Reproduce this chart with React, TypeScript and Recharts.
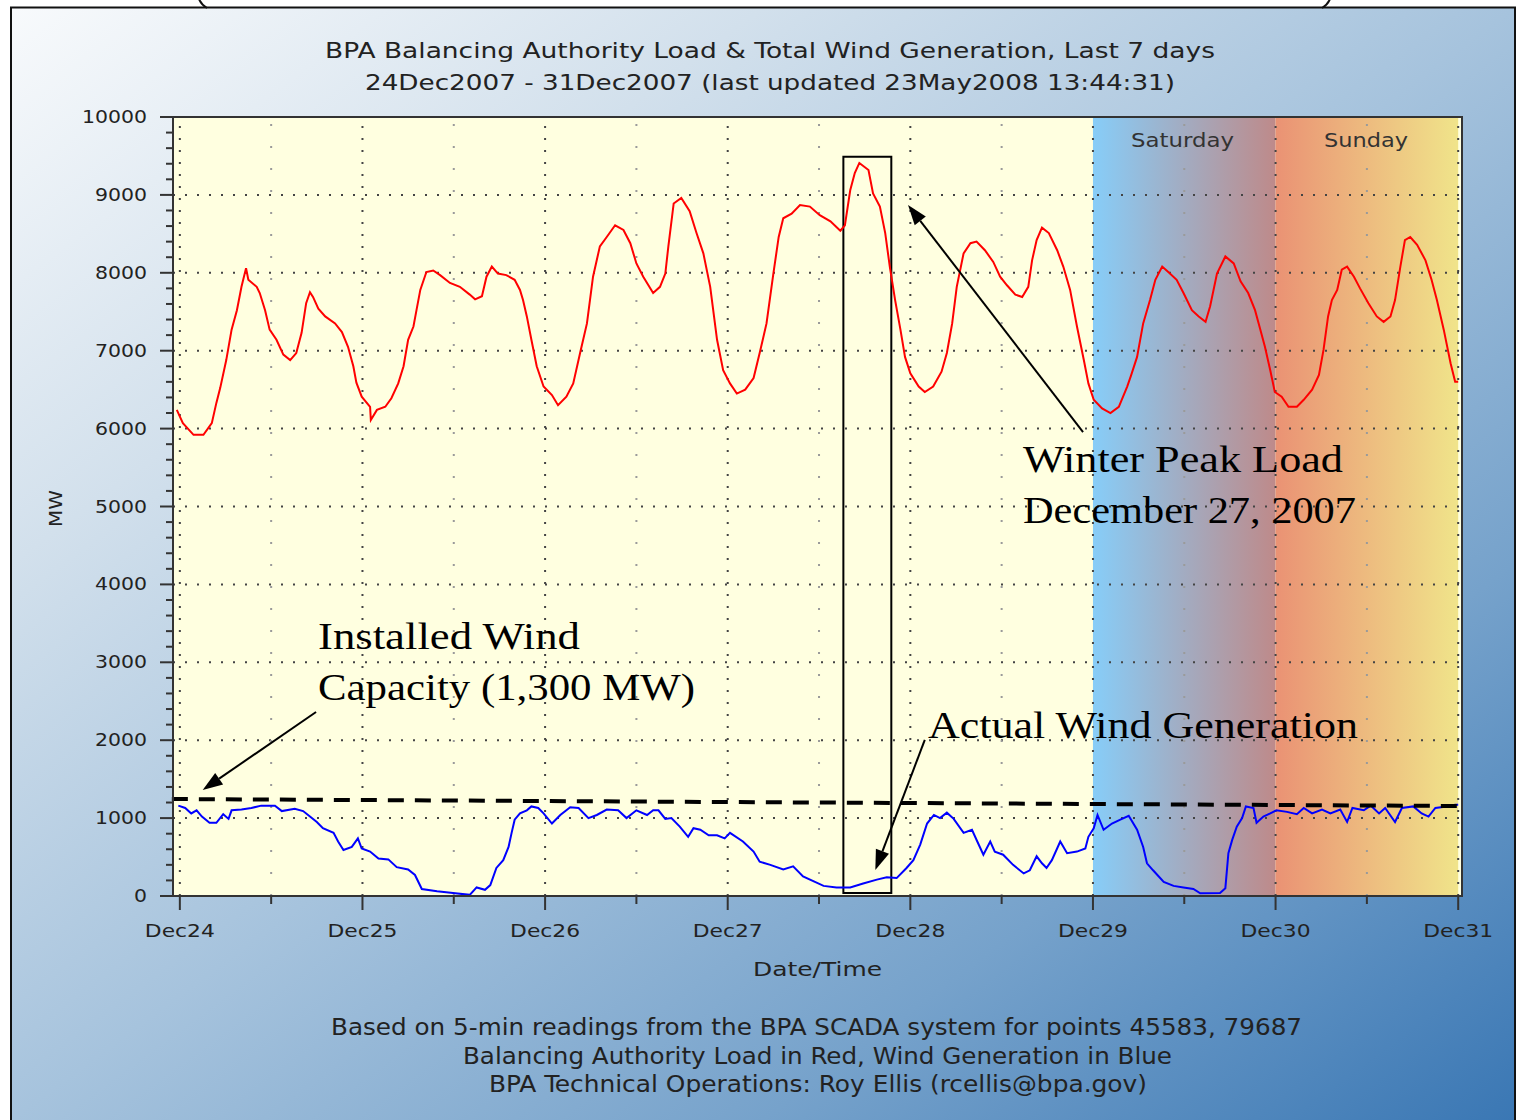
import React from 'react';
import { LineChart, Line, XAxis, YAxis, ReferenceArea, ReferenceLine } from 'recharts';

// hours since Dec24 00:00 and MW
const loadHours = [-0.4, 0.4, 1.8, 3.1, 4.2, 4.8, 5.3, 6.1, 6.8, 7.5, 8.1, 8.7, 9.0, 10.1, 10.5, 11.2, 11.8, 12.7, 13.6, 14.5, 15.3, 16.0, 16.6, 17.1, 17.5, 18.2, 19.1, 20.4, 21.3, 22.1, 22.8, 23.2, 23.9, 25.0, 25.1, 25.9, 27.0, 27.8, 28.7, 29.4, 30.0, 30.7, 31.1, 31.6, 32.4, 33.3, 34.2, 35.5, 36.8, 38.1, 38.8, 39.7, 40.3, 41.0, 41.8, 42.9, 44.0, 44.7, 45.1, 45.6, 46.2, 46.9, 47.8, 48.9, 49.7, 50.8, 51.7, 52.6, 53.5, 54.3, 55.2, 56.1, 57.2, 58.3, 59.2, 60.0, 60.9, 62.2, 63.1, 63.8, 64.2, 64.9, 65.9, 67.0, 67.9, 68.8, 69.7, 70.6, 71.4, 72.3, 73.2, 74.3, 75.4, 76.2, 77.1, 78.0, 78.7, 79.3, 80.4, 81.5, 82.8, 84.1, 85.5, 86.8, 87.4, 88.1, 88.7, 89.3, 90.5, 91.1, 92.0, 92.7, 93.3, 94.0, 94.7, 95.3, 96.0, 97.1, 97.9, 99.0, 100.1, 100.8, 101.5, 102.1, 103.0, 103.9, 104.7, 105.8, 106.9, 107.8, 108.7, 109.8, 110.7, 111.5, 112.0, 112.6, 113.3, 114.2, 115.3, 116.1, 117.0, 117.9, 118.8, 119.4, 120.1, 121.2, 122.3, 123.4, 124.5, 125.0, 125.8, 126.6, 127.5, 128.2, 129.1, 129.9, 131.0, 131.9, 133.0, 133.9, 134.8, 135.4, 136.3, 137.4, 138.5, 139.4, 140.4, 141.3, 142.0, 142.6, 143.3, 143.9, 144.8, 145.7, 146.8, 147.7, 148.8, 149.7, 150.3, 150.9, 151.4, 152.1, 152.7, 153.4, 154.3, 155.1, 156.2, 157.3, 158.2, 159.1, 159.7, 160.4, 161.0, 161.7, 162.6, 163.7, 164.5, 165.2, 166.1, 167.0, 167.6, 168.0];
const loadMW = [6240, 6070, 5920, 5920, 6070, 6330, 6520, 6880, 7270, 7520, 7820, 8060, 7910, 7820, 7740, 7520, 7270, 7140, 6950, 6880, 6970, 7230, 7610, 7750, 7690, 7540, 7440, 7350, 7240, 7050, 6800, 6590, 6410, 6280, 6110, 6240, 6280, 6390, 6580, 6800, 7140, 7310, 7520, 7780, 8010, 8030, 7970, 7870, 7820, 7720, 7660, 7700, 7950, 8080, 7990, 7970, 7910, 7780, 7650, 7440, 7140, 6800, 6540, 6430, 6300, 6410, 6580, 6970, 7350, 7950, 8340, 8460, 8610, 8550, 8380, 8120, 7950, 7740, 7820, 7990, 8340, 8890, 8960, 8790, 8510, 8250, 7820, 7140, 6750, 6580, 6450, 6500, 6650, 6970, 7350, 7990, 8460, 8700, 8760, 8870, 8850, 8740, 8660, 8540, 8610, 9060, 9280, 9410, 9320, 9020, 8850, 8510, 8080, 7650, 7270, 6920, 6710, 6540, 6470, 6540, 6730, 6970, 7350, 7820, 8250, 8380, 8400, 8290, 8140, 7950, 7840, 7720, 7690, 7820, 8160, 8420, 8580, 8510, 8290, 8080, 7780, 7310, 6880, 6580, 6370, 6260, 6200, 6280, 6540, 6680, 6920, 7350, 7650, 7910, 8080, 8010, 7910, 7740, 7520, 7440, 7370, 7570, 7990, 8210, 8120, 7890, 7740, 7520, 7270, 7050, 6750, 6470, 6410, 6280, 6280, 6370, 6500, 6690, 7010, 7440, 7650, 7780, 8040, 8080, 7950, 7800, 7610, 7440, 7370, 7440, 7650, 8080, 8420, 8460, 8360, 8160, 7910, 7650, 7270, 6840, 6600, 6600];

const windHours = [-0.2, 0.7, 1.5, 2.2, 2.9, 3.9, 4.8, 5.7, 6.4, 6.8, 8.1, 9.4, 10.7, 12.5, 13.4, 15.1, 16.2, 17.1, 18.0, 18.8, 20.2, 20.8, 21.5, 22.6, 23.4, 23.9, 25.0, 26.1, 27.4, 28.5, 30.0, 30.9, 31.8, 33.8, 35.9, 38.1, 39.0, 40.1, 40.8, 41.6, 42.5, 43.2, 43.6, 44.0, 44.7, 45.6, 46.2, 47.1, 47.8, 48.9, 50.0, 51.3, 52.4, 53.7, 54.8, 56.1, 57.6, 58.7, 60.0, 61.4, 62.2, 62.9, 63.8, 64.6, 65.7, 66.8, 67.5, 68.4, 69.5, 70.6, 71.6, 72.3, 74.0, 75.4, 76.2, 77.6, 79.3, 80.6, 81.9, 84.6, 86.3, 88.1, 89.8, 91.6, 92.9, 94.2, 95.5, 96.4, 97.3, 98.2, 99.1, 99.9, 100.8, 101.7, 103.0, 104.1, 104.8, 105.6, 106.5, 107.1, 108.2, 109.5, 110.9, 111.7, 112.6, 113.3, 113.9, 114.6, 115.7, 116.6, 117.9, 119.0, 119.4, 120.1, 120.6, 121.4, 122.5, 123.6, 124.7, 125.8, 126.6, 127.1, 127.9, 129.3, 130.6, 131.9, 133.2, 134.1, 136.7, 137.4, 137.8, 138.3, 138.9, 139.6, 140.1, 141.1, 141.5, 142.4, 143.3, 144.1, 145.5, 146.8, 147.7, 148.8, 150.1, 151.2, 152.5, 153.4, 154.1, 155.6, 156.5, 157.6, 158.4, 159.7, 160.6, 162.1, 163.2, 164.1, 165.0, 166.5, 167.6, 168.0];
const windMW = [1160, 1130, 1060, 1100, 1020, 940, 940, 1050, 990, 1100, 1110, 1130, 1160, 1160, 1090, 1120, 1090, 1020, 950, 870, 810, 700, 590, 630, 740, 610, 570, 480, 470, 370, 340, 270, 90, 60, 40, 15, 110, 80, 140, 360, 460, 630, 810, 980, 1060, 1100, 1150, 1130, 1060, 930, 1040, 1140, 1130, 1000, 1040, 1110, 1100, 1000, 1100, 1040, 1100, 1100, 990, 1000, 890, 760, 870, 850, 780, 780, 740, 810, 700, 570, 440, 400, 340, 380, 250, 130, 110, 110, 160, 210, 240, 230, 360, 460, 660, 930, 1040, 1000, 1070, 990, 810, 850, 700, 530, 700, 570, 530, 400, 290, 330, 510, 420, 360, 460, 700, 550, 570, 610, 760, 870, 1040, 850, 930, 980, 1030, 850, 630, 420, 330, 180, 130, 110, 90, 35, 40, 100, 550, 720, 890, 1000, 1150, 1130, 940, 1020, 1060, 1100, 1080, 1050, 1130, 1060, 1110, 1060, 1110, 950, 1130, 1100, 1160, 1060, 1130, 950, 1130, 1150, 1060, 1020, 1130, 1150, 1170, 1170];

const dayLabels = ['Dec24', 'Dec25', 'Dec26', 'Dec27', 'Dec28', 'Dec29', 'Dec30', 'Dec31'];
const dayHours = [0, 24, 48, 72, 96, 120, 144, 168];
const halfDayHours = [12, 36, 60, 84, 108, 132, 156];
const xTicks = [0, 12, 24, 36, 48, 60, 72, 84, 96, 108, 120, 132, 144, 156, 168];
const yTicks = Array.from({ length: 51 }, (_, i) => i * 200);
const gridMW = [1000, 2000, 3000, 4000, 5000, 6000, 7000, 8000, 9000];

const loadData = loadHours.map((h, i) => ({ h, mw: loadMW[i] }));
const windData = windHours.map((h, i) => ({ h, mw: windMW[i] }));

const AXIS_FONT = '"DejaVu Sans", Verdana, sans-serif';
const NOTE_FONT = '"Liberation Serif", "Times New Roman", serif';
const FOOT_FONT = '"Liberation Sans Narrow", "DejaVu Sans Condensed", sans-serif';

const XTick = (props: any) => {
    const { x, y, payload } = props;
    const v = payload.value;
    const major = v % 24 === 0;
    return (
        <g>
            <line x1={x} x2={x} y1={y} y2={y + (major ? 14 : 8)} stroke="#333" strokeWidth={2} />
            {major && (
                <text x={x} y={y + 41} textAnchor="middle" fontFamily={AXIS_FONT} fontSize={18} fill="#222"
                    textLength={70} lengthAdjust="spacingAndGlyphs">
                    {dayLabels[v / 24]}
                </text>
            )}
        </g>
    );
};

const YTick = (props: any) => {
    const { x, y, payload } = props;
    const v = payload.value;
    const major = v % 1000 === 0;
    const label = String(v);
    return (
        <g>
            <line x1={x - (major ? 13 : 7)} x2={x} y1={y} y2={y} stroke="#333" strokeWidth={2} />
            {major && (
                <text x={x - 26} y={y + 6} textAnchor="end" fontFamily={AXIS_FONT} fontSize={17} fill="#222"
                    textLength={label.length * 13} lengthAdjust="spacingAndGlyphs">
                    {label}
                </text>
            )}
        </g>
    );
};

const Arrow = (props: any) => {
    const { x1, y1, x2, y2 } = props;
    const a = Math.atan2(y2 - y1, x2 - x1);
    const L = 20, W = 7;
    const bx = x2 - L * Math.cos(a), by = y2 - L * Math.sin(a);
    const p1 = `${bx + W * Math.sin(a)},${by - W * Math.cos(a)}`;
    const p2 = `${bx - W * Math.sin(a)},${by + W * Math.cos(a)}`;
    return (
        <g>
            <line x1={x1} y1={y1} x2={bx} y2={by} stroke="#000" strokeWidth={2} />
            <polygon points={`${x2},${y2} ${p1} ${p2}`} fill="#000" />
        </g>
    );
};

const T = (p: { x: number; y: number; w: number; size: number; font: string; children: string; fill?: string; rotate?: number }) => (
    <text x={p.x} y={p.y} fontFamily={p.font} fontSize={p.size} fill={p.fill || '#222'}
        textLength={p.w} lengthAdjust="spacingAndGlyphs"
        transform={p.rotate ? `rotate(${p.rotate} ${p.x} ${p.y})` : undefined}>
        {p.children}
    </text>
);

const App: React.FC = () => {
    return (
        <div style={{ position: 'relative', width: 1518, height: 1120, overflow: 'hidden', background: '#fff' }}>
            <style>{'body{margin:0}'}</style>
            <div style={{
                position: 'absolute', left: 11, top: 8, width: 1504, height: 1112,
                background: 'linear-gradient(to bottom right, #f8fafc 0%, #d2e0ec 25%, #a6c3dd 50%, #76a2cb 75%, #3a77b4 100%)',
            }} />
            <div style={{ position: 'absolute', left: 0, top: 0 }}>
                <LineChart width={1518} height={1120} margin={{ top: 117, right: 56, bottom: 194, left: 113 }}>
                    <defs>
                        <linearGradient id="satGrad" x1="0" y1="0" x2="1" y2="0">
                            <stop offset="0%" stopColor="#87cdf8" />
                            <stop offset="100%" stopColor="#be8a8a" />
                        </linearGradient>
                        <linearGradient id="sunGrad" x1="0" y1="0" x2="1" y2="0">
                            <stop offset="0%" stopColor="#ea9274" />
                            <stop offset="100%" stopColor="#f0e48a" />
                        </linearGradient>
                    </defs>
                    <XAxis dataKey="h" type="number" domain={[-0.9, 168.5]} ticks={xTicks} interval={0}
                        allowDataOverflow height={30} axisLine={{ stroke: '#333', strokeWidth: 2 }}
                        tickLine={false} tickSize={0} tickMargin={0} tick={<XTick />} />
                    <YAxis type="number" domain={[0, 10000]} ticks={yTicks} interval={0} width={60}
                        axisLine={{ stroke: '#333', strokeWidth: 2 }}
                        tickLine={false} tickSize={0} tickMargin={0} tick={<YTick />} />
                    <ReferenceArea y1={0} y2={10000} fill="#ffffe0" fillOpacity={1} />
                    <ReferenceArea x1={120} x2={144} y1={0} y2={10000} fill="url(#satGrad)" fillOpacity={1} />
                    <ReferenceArea x1={144} x2={168} y1={0} y2={10000} fill="url(#sunGrad)" fillOpacity={1} />
                    {gridMW.map((v) => (
                        <ReferenceLine key={'g' + v} y={v} stroke="#444" strokeWidth={2} strokeDasharray="2 10" />
                    ))}
                    {dayHours.map((h) => (
                        <ReferenceLine key={'d' + h} x={h} stroke="#444" strokeWidth={2} strokeDasharray="2 10" />
                    ))}
                    {halfDayHours.map((h) => (
                        <ReferenceLine key={'m' + h} x={h} stroke="#9a9a9a" strokeWidth={2} strokeDasharray="2 20" />
                    ))}
                    <Line data={loadData} dataKey="mw" type="linear" stroke="#ff0000" strokeWidth={2}
                        dot={false} activeDot={false} isAnimationActive={false} />
                    <Line data={windData} dataKey="mw" type="linear" stroke="#0000ff" strokeWidth={2}
                        dot={false} activeDot={false} isAnimationActive={false} />
                    <ReferenceLine segment={[{ x: -1.05, y: 1245 }, { x: 169.1, y: 1155 }]} ifOverflow="visible"
                        stroke="#000" strokeWidth={4} strokeDasharray="16 11" />
                    <ReferenceArea x1={87.2} x2={93.5} y1={40} y2={9490} fill="none" stroke="#000" strokeWidth={2} ifOverflow="visible" />
                    <ReferenceLine segment={[{ x: 118.7, y: 5956 }, { x: 95.7, y: 8870 }]} ifOverflow="visible" shape={Arrow} />
                    <ReferenceLine segment={[{ x: 17.9, y: 2362 }, { x: 3.0, y: 1361 }]} ifOverflow="visible" shape={Arrow} />
                    <ReferenceLine segment={[{ x: 97.9, y: 2003 }, { x: 91.4, y: 334 }]} ifOverflow="visible" shape={Arrow} />
                </LineChart>
            </div>
            <svg width={1518} height={1120} style={{ position: 'absolute', left: 0, top: 0, pointerEvents: 'none' }}>
                <path d="M11 1120 V7.5 H1515 V1120" stroke="#111" strokeWidth={2} fill="none" />
                <path d="M198 -4 Q200 4 207 8" stroke="#111" strokeWidth={2} fill="none" />
                <path d="M1331 -4 Q1329 4 1322 8" stroke="#111" strokeWidth={2} fill="none" />
                <rect x={173} y={117} width={1289} height={779} fill="none" stroke="#333" strokeWidth={2} />

                <T x={325} y={58} w={890} size={21} font={AXIS_FONT}>BPA Balancing Authority Load &amp; Total Wind Generation, Last 7 days</T>
                <T x={365} y={90} w={810} size={21} font={AXIS_FONT}>24Dec2007 - 31Dec2007 (last updated 23May2008 13:44:31)</T>
                <T x={1131} y={147} w={103} size={19} font={AXIS_FONT} fill="#333">Saturday</T>
                <T x={1324} y={147} w={84} size={19} font={AXIS_FONT} fill="#333">Sunday</T>
                <T x={753} y={976} w={129} size={19} font={AXIS_FONT}>Date/Time</T>
                <T x={62} y={527} w={37} size={17} font={AXIS_FONT} rotate={-90}>MW</T>

                <T x={331} y={1035} w={971} size={23} font={FOOT_FONT}>Based on 5-min readings from the BPA SCADA system for points 45583, 79687</T>
                <T x={463} y={1064} w={709} size={23} font={FOOT_FONT}>Balancing Authority Load in Red, Wind Generation in Blue</T>
                <T x={489} y={1092} w={658} size={23} font={FOOT_FONT}>BPA Technical Operations: Roy Ellis (rcellis@bpa.gov)</T>

                <T x={1023} y={472} w={320} size={38} font={NOTE_FONT} fill="#000">Winter Peak Load</T>
                <T x={1023} y={523} w={333} size={38} font={NOTE_FONT} fill="#000">December 27, 2007</T>
                <T x={318} y={649} w={262} size={38} font={NOTE_FONT} fill="#000">Installed Wind</T>
                <T x={318} y={700} w={377} size={38} font={NOTE_FONT} fill="#000">Capacity (1,300 MW)</T>
                <T x={928} y={738} w={430} size={38} font={NOTE_FONT} fill="#000">Actual Wind Generation</T>
            </svg>
        </div>
    );
};

export default App;
